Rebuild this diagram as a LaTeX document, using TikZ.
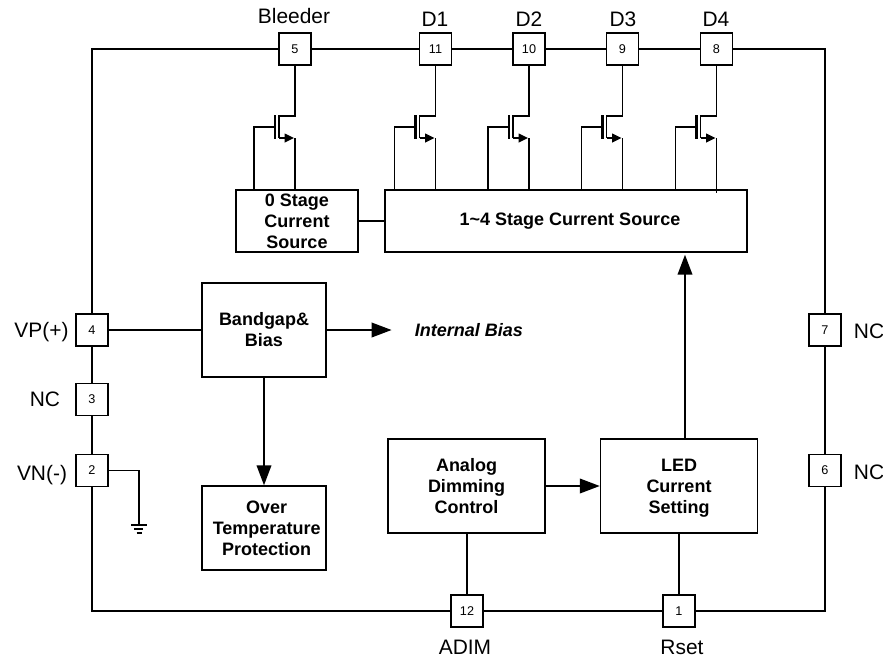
\documentclass[tikz,border=0pt]{standalone}
\usepackage{fontspec}
\setmainfont{Liberation Sans}
\usetikzlibrary{arrows.meta}

\begin{document}
\begin{tikzpicture}[
        x=0.75pt, y=-0.75pt, line width=1.1pt,
        block/.style={rectangle, draw, inner sep=0pt, align=center, font=\fontsize{13.5}{15.75}\selectfont\bfseries},
        pin/.style={rectangle, draw, fill=white, minimum width=24pt, minimum height=24pt, inner sep=0pt, font=\fontsize{9.5}{11}\selectfont},
        pinlabel/.style={inner sep=0pt, font=\fontsize{15.7}{18}\selectfont},
        bigarrow/.style={line width=1.3pt, -{Triangle[length=15pt,width=11pt]}}
    ]
        \useasboundingbox (0, 0) rectangle (883, 658);

        \node[pin] (p5) at (295, 49) {5};
        \node[pin] (p11) at (435.5, 49) {11};
        \node[pin] (p10) at (529, 49) {10};
        \node[pin] (p9) at (622.5, 49) {9};
        \node[pin] (p8) at (716.5, 49) {8};
        \node[pin] (p4) at (92, 330) {4};
        \node[pin] (p3) at (92, 399.5) {3};
        \node[pin] (p2) at (92, 470.5) {2};
        \node[pin] (p7) at (825, 330) {7};
        \node[pin] (p6) at (825, 470.5) {6};
        \node[pin] (p12) at (467, 611) {12};
        \node[pin] (p1) at (679, 611) {1};

        \node[pinlabel] (lbleeder) at (294, 16) {Bleeder};
        \node[pinlabel] (ld1) at (435, 19) {D1};
        \node[pinlabel] (ld2) at (529, 19) {D2};
        \node[pinlabel] (ld3) at (623, 19) {D3};
        \node[pinlabel] (ld4) at (716, 19) {D4};
        \node[pinlabel] (lvp) at (41.5, 332) {VP(+)};
        \node[pinlabel] (lnc3) at (45, 399) {NC};
        \node[pinlabel] (lvn) at (42, 475) {VN(-)};
        \node[pinlabel] (lnc7) at (869, 331) {NC};
        \node[pinlabel] (lnc6) at (869, 472) {NC};
        \node[pinlabel] (ladim) at (465, 647) {ADIM};
        \node[pinlabel] (lrset) at (682, 647) {Rset};

        \node[block, minimum width=91.5pt, minimum height=46.5pt] (stage0) at (297, 221) {0 Stage\\Current\\Source};
        \node[block, minimum width=271.5pt, minimum height=46.5pt] (stage14) at (566, 221) {\hspace*{6pt}1\textasciitilde4 Stage Current Source};
        \node[block, minimum width=93pt, minimum height=70.5pt] (bandgap) at (264, 330) {Bandgap\&\\Bias};
        \node[block, minimum width=93pt, minimum height=63pt] (overtemp) at (264, 528) {\hspace*{4pt}Over\\\hspace*{4pt}Temperature\\\hspace*{4pt}Protection};
        \node[block, minimum width=117.75pt, minimum height=70.5pt] (analog) at (466.5, 486) {Analog\\Dimming\\Control};
        \node[block, minimum width=117.75pt, minimum height=70.5pt] (ledset) at (679, 486) {LED\\Current\\\smash{Setting}};
        \node[inner sep=0pt, font=\fontsize{13.5}{15.75}\selectfont\bfseries\itshape] (intbias) at (469, 330) {Internal Bias};

        \coordinate (gnd) at (139, 525);
        \coordinate (ledtap) at (685, 439);

        \draw (p4) |- (p5);
        \draw (p5) -- (p11);
        \draw (p11) -- (p10);
        \draw (p10) -- (p9);
        \draw (p9) -- (p8);
        \draw (p8) -| (p7);
        \draw (p7) -- (p6);
        \draw (p6) |- (p1);
        \draw (p1) -- (p12);
        \draw (p12) -| (p2);
        \draw (p2) -- (p3);
        \draw (p3) -- (p4);

        \foreach \x/\n/\e in {295/p5/190, 435.5/p11/190, 529/p10/190, 622.5/p9/190, 716.5/p8/193} {
            \draw (\n.south) -- (\x, 116) -- (\x-16, 116) -- (\x-16, 138);
            \draw[-{Triangle[length=7pt,width=6.5pt]}] (\x-16, 138) -- (\x-1, 138);
            \draw (\x, 138) -- (\x, \e);
            \draw[line width=2.2pt] (\x-20, 115) -- (\x-20, 139);
            \draw (\x-41, 190) |- (\x-20, 127);
        }

        \draw (stage0) -- (stage14);
        \draw (p4) -- (bandgap);
        \draw[bigarrow, shorten >=17pt] (bandgap.east) -- (intbias.west);
        \draw[bigarrow] (bandgap) -- (overtemp);
        \draw[bigarrow] (analog) -- (ledset);
        \draw[bigarrow, shorten >=1.5pt] (ledtap) -- (ledtap |- stage14.south);
        \draw (analog.south -| p12) -- (p12);
        \draw (ledset) -- (p1);

        \draw (p2.east) -| (gnd);
        \draw (131, 525) -- (147, 525);
        \draw (134, 529) -- (143, 529);
        \draw (136.5, 533) -- (141.5, 533);
    \end{tikzpicture}
\end{document}
